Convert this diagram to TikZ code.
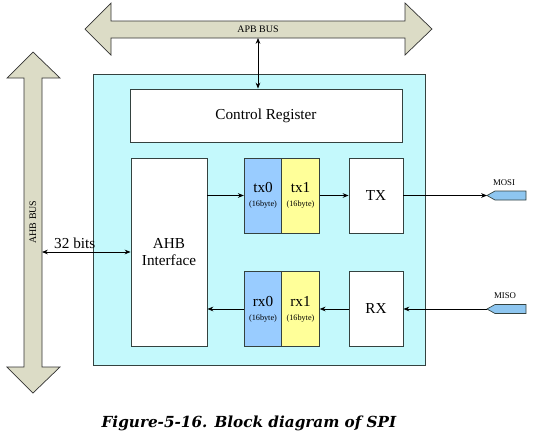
\documentclass[tikz,border=0pt]{standalone}
\usepackage{fontspec}
\setmainfont{Liberation Serif}
\newfontfamily\captionfont{DejaVu Serif}
\usetikzlibrary{arrows.meta}
\definecolor{spicyan}{HTML}{C4F9FC}
\definecolor{fifoblue}{HTML}{99CCFF}
\definecolor{fifoyellow}{HTML}{FFFF99}
\definecolor{busfill}{HTML}{DCDCC6}
\definecolor{pinblue}{HTML}{8EC6F0}
\definecolor{boxline}{HTML}{34423F}

\begin{document}
\begin{tikzpicture}[
  x=0.03cm,
  y=-0.03cm,
  every node/.style={font=\fontsize{13}{15}\selectfont},
  >={Stealth[length=5pt,width=4pt]},
  blockbox/.style={draw=boxline, fill=white, line width=0.8pt, inner sep=0pt,
    minimum height=2.25cm},
  fifobox/.style={blockbox, minimum width=1.125cm, align=center},
  busshape/.style={draw=black!80, fill=busfill, line width=0.6pt, line join=miter},
  pinshape/.style={draw=boxline, fill=pinblue, line width=0.6pt},
  smalltext/.style={font=\fontsize{8.5}{10}\selectfont},
  link/.style={black, line width=0.7pt}
]
  \useasboundingbox (0,0) rectangle (536,438);

  % buses
  \draw[busshape] (85,29) -- (111,3) -- (111,21) -- (405,21) -- (405,3) -- (432,29)
    -- (405,55) -- (405,38) -- (111,38) -- (111,55) -- cycle;
  \node[smalltext] (apb) at (258,29.5) {APB BUS};
  \draw[busshape] (33,52) -- (60,78) -- (42,78) -- (42,367) -- (60,367) -- (33,393)
    -- (7,367) -- (24,367) -- (24,78) -- (7,78) -- cycle;
  \node[smalltext, rotate=90] (ahbbus) at (33,222) {AHB BUS};
  \coordinate (apbport) at (258,38);
  \coordinate (ahbport) at (42,252);

  % SPI block
  \node[draw=boxline, fill=spicyan, line width=0.8pt, minimum width=9.96cm,
    minimum height=8.73cm, inner sep=0pt] (spi) at (259,219.5) {};
  \node[blockbox, minimum width=8.16cm, minimum height=1.59cm] (ctrl) at (266,115.5)
    {Control Register};
  \node[blockbox, minimum width=2.28cm, minimum height=5.64cm, align=center] (ahbif)
    at (169,252) {AHB\\Interface};

  \node[fifobox, fill=fifoblue] (tx0) at (263,195.5)
    {tx0\\[-3pt]{\fontsize{7}{8}\selectfont(16byte)}};
  \node[fifobox, fill=fifoyellow] (tx1) at (300.5,195.5)
    {tx1\\[-3pt]{\fontsize{7}{8}\selectfont(16byte)}};
  \node[blockbox, minimum width=1.62cm] (txb) at (376,195.5) {TX};

  \node[fifobox, fill=fifoblue] (rx0) at (263,309)
    {rx0\\[-3pt]{\fontsize{7}{8}\selectfont(16byte)}};
  \node[fifobox, fill=fifoyellow] (rx1) at (300.5,309)
    {rx1\\[-3pt]{\fontsize{7}{8}\selectfont(16byte)}};
  \node[blockbox, minimum width=1.62cm] (rxb) at (376,309) {RX};

  % pins
  \draw[pinshape] (487,195.5) -- (495,191) -- (526,191) -- (526,200) -- (495,200) -- cycle;
  \coordinate (mosi) at (487,195.5);
  \node[font=\fontsize{7.5}{9}\selectfont] (mosilabel) at (504,183) {MOSI};
  \draw[pinshape] (487,309) -- (495,304.5) -- (526,304.5) -- (526,313.5) -- (495,313.5) -- cycle;
  \coordinate (miso) at (487,309);
  \node[font=\fontsize{7.5}{9}\selectfont] (misolabel) at (505,296) {MISO};

  % connections
  \draw[link, <->] (apbport) -- (apbport |- ctrl.north);
  \draw[link, <->] (ahbport) -- (ahbport -| ahbif.west)
    node[pos=0.37, above=-1pt] (width) {32 bits};
  \draw[link, ->] (ahbif.east |- tx0.west) -- (tx0.west);
  \draw[link, ->] (tx1.east) -- (txb.west);
  \draw[link, ->] (txb.east) -- (mosi);
  \draw[link, ->] (miso) -- (rxb.east);
  \draw[link, ->] (rxb.west) -- (rx1.east);
  \draw[link, ->] (rx0.west) -- (ahbif.east |- rx0.west);

  % caption
  \node[font=\captionfont\bfseries\itshape\fontsize{13}{15}\selectfont] (caption)
    at (249,423) {Figure-5-16. Block diagram of SPI};
\end{tikzpicture}
\end{document}
